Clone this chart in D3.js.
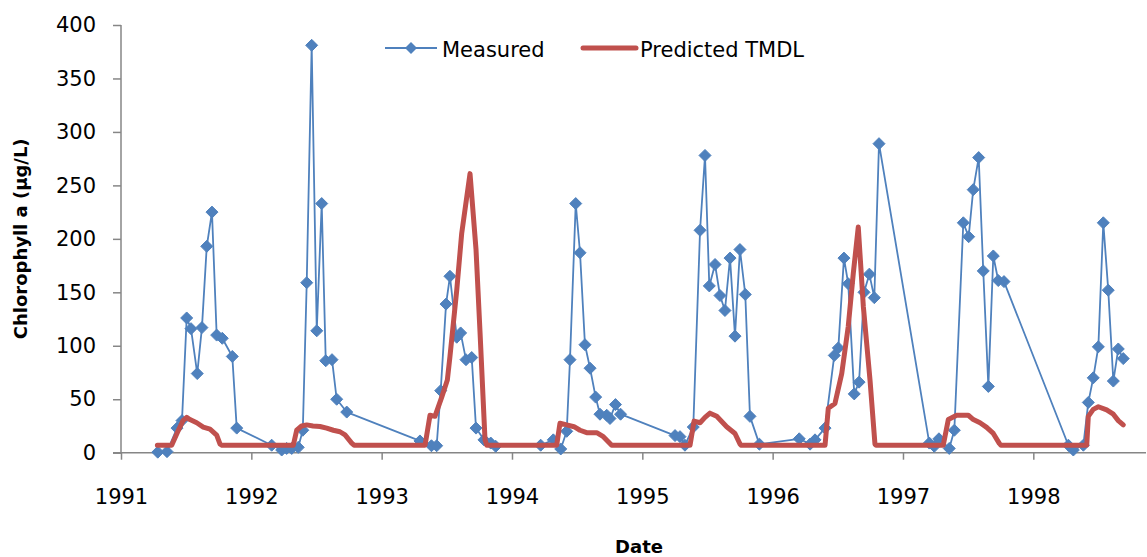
<!DOCTYPE html>
<html>
<head>
<meta charset="utf-8">
<script src="https://cdn.jsdelivr.net/npm/d3@7/dist/d3.min.js"></script>
<style>
  html, body { margin: 0; padding: 0; background: #fff; }
  svg { display: block; }
  text { font-family: "DejaVu Sans", sans-serif; fill: #000; }
</style>
</head>
<body>
<svg id="chart" width="1147" height="557"></svg>
<script>
// Measured chlorophyll a (decimal year, µg/L)
const measuredDates = [
  1991.282, 1991.353, 1991.430, 1991.468, 1991.504, 1991.537, 1991.585, 1991.621, 1991.658, 1991.698,
  1991.734, 1991.777, 1991.854, 1991.888,
  1992.156, 1992.233, 1992.271, 1992.310, 1992.360, 1992.395, 1992.425, 1992.463, 1992.502, 1992.540,
  1992.571, 1992.619, 1992.655, 1992.732,
  1993.294, 1993.382, 1993.422, 1993.453, 1993.494, 1993.524, 1993.576, 1993.606, 1993.647, 1993.691,
  1993.724, 1993.785, 1993.837, 1993.875,
  1994.220, 1994.317, 1994.374, 1994.420, 1994.445, 1994.489, 1994.522, 1994.560, 1994.599, 1994.642,
  1994.675, 1994.727, 1994.752, 1994.794, 1994.833,
  1995.251, 1995.289, 1995.327, 1995.391, 1995.443, 1995.481, 1995.514, 1995.558, 1995.596, 1995.634,
  1995.673, 1995.711, 1995.749, 1995.790, 1995.826, 1995.898,
  1996.204, 1996.287, 1996.325, 1996.402, 1996.473, 1996.504, 1996.547, 1996.580, 1996.626, 1996.663,
  1996.701, 1996.742, 1996.780, 1996.816,
  1997.202, 1997.240, 1997.276, 1997.355, 1997.394, 1997.463, 1997.504, 1997.539, 1997.581, 1997.616,
  1997.655, 1997.693, 1997.731, 1997.775,
  1998.269, 1998.307, 1998.384, 1998.422, 1998.460, 1998.499, 1998.537, 1998.575, 1998.614, 1998.652,
  1998.690
];
const measuredValues = [
  0.5, 1, 23, 30, 126, 116, 74, 117, 193, 225,
  110, 107, 90, 23,
  7, 2.5, 4, 4, 5, 21, 159, 381, 114, 233,
  86, 87, 50, 38,
  11, 6.5, 6.5, 58, 139, 165, 108, 112, 87, 89,
  23, 12, 9, 6,
  7, 12, 3.5, 20, 87, 233, 187, 101, 79, 52,
  36, 35, 32, 45, 36,
  16, 15, 7, 24, 208, 278, 156, 176, 147, 133,
  182, 109, 190, 148, 34, 8,
  13, 8, 12, 23, 91, 98, 182, 158, 55, 66,
  150, 167, 145, 289,
  9, 6, 13, 4, 21, 215, 202, 246, 276, 170,
  62, 184, 161, 160,
  7, 2.5, 7, 47, 70, 99, 215, 152, 67, 97,
  88
];

// Predicted TMDL (decimal year, µg/L)
const predictedDates = [
  1991.279, 1991.389, 1991.437, 1991.476, 1991.504, 1991.529, 1991.581, 1991.631, 1991.683, 1991.734, 1991.760, 1991.775,
  1992.322, 1992.348, 1992.386, 1992.425, 1992.473, 1992.527, 1992.578, 1992.629, 1992.680, 1992.719, 1992.770, 1992.788,
  1993.333, 1993.371, 1993.409, 1993.461, 1993.504, 1993.524, 1993.576, 1993.614, 1993.678, 1993.724, 1993.755, 1993.793, 1993.806,
  1994.343, 1994.368, 1994.420, 1994.476, 1994.522, 1994.573, 1994.650, 1994.701, 1994.765,
  1995.366, 1995.397, 1995.443, 1995.481, 1995.519, 1995.571, 1995.647, 1995.711, 1995.750, 1995.757,
  1996.402, 1996.427, 1996.478, 1996.530, 1996.580, 1996.619, 1996.657, 1996.696, 1996.747, 1996.785, 1996.793,
  1997.309, 1997.348, 1997.412, 1997.501, 1997.540, 1997.591, 1997.642, 1997.693, 1997.739, 1997.752,
  1998.410, 1998.422, 1998.460, 1998.499, 1998.563, 1998.614, 1998.652, 1998.690
];
const predictedValues = [
  7, 7, 20, 30, 33, 31, 28, 24, 22, 16.5, 8, 7,
  7, 21, 25, 26, 25, 24.5, 23, 21, 19.6, 16.6, 9, 7,
  7, 35, 34, 52, 68, 90, 152, 205, 261, 190, 112, 12, 7,
  7, 27.5, 26, 24.3, 21, 18.7, 18.7, 15, 7,
  7, 29.6, 28, 33, 37, 34, 24.3, 18, 8, 7,
  7, 41.5, 46, 74, 118, 168, 211, 136.5, 68, 8, 7,
  7, 31, 35, 35, 31, 28, 23.7, 18, 8.7, 7,
  7, 34, 40.5, 43, 40, 36, 30, 26
];

const yTicks = [0, 50, 100, 150, 200, 250, 300, 350, 400];
const xTicks = [1991, 1992, 1993, 1994, 1995, 1996, 1997, 1998];
const seriesNames = ["Measured", "Predicted TMDL"];

(function () {
  const measured = measuredDates.map((d, i) => ({ x: d, y: measuredValues[i] }));
  const predicted = predictedDates.map((d, i) => ({ x: d, y: predictedValues[i] }));

  const svg = d3.select("#chart");
  const pLeft = 121, pRight = 1146, pTop = 25, pBottom = 452.7;
  const pxPerYear = 130.33;

  const x = d3.scaleLinear()
    .domain([1991, 1991 + (pRight - pLeft) / pxPerYear])
    .range([pLeft, pRight]);
  const y = d3.scaleLinear().domain([0, 400]).range([pBottom, pTop]);

  const axisColor = "#868686";
  const blue = "#4F81BD";
  const red = "#C0504D";

  // Y axis
  const yAxis = svg.append("g").attr("transform", `translate(${pLeft},0)`)
    .call(d3.axisLeft(y).tickValues(yTicks).tickSize(8).tickPadding(17).tickFormat(d3.format("d")));
  yAxis.select(".domain").attr("stroke", axisColor).attr("stroke-width", 1.5)
    .attr("d", `M0,${pTop}V${pBottom}`);
  yAxis.selectAll(".tick line").attr("stroke", axisColor).attr("stroke-width", 1.5);
  yAxis.selectAll(".tick text").attr("font-size", 21).attr("font-family", "DejaVu Sans").attr("fill", "#000");

  // X axis
  const xAxis = svg.append("g").attr("transform", `translate(0,${pBottom})`)
    .call(d3.axisBottom(x).tickValues(xTicks).tickSize(7).tickPadding(29).tickFormat(d3.format("d")));
  xAxis.select(".domain").attr("stroke", axisColor).attr("stroke-width", 1.5)
    .attr("d", `M${pLeft - 8},0H${pRight}`);
  xAxis.selectAll(".tick line").attr("stroke", axisColor).attr("stroke-width", 1.5);
  xAxis.selectAll(".tick text").attr("font-size", 21).attr("font-family", "DejaVu Sans").attr("fill", "#000");

  // Axis titles
  svg.append("text")
    .attr("transform", `translate(27,${(pTop + pBottom) / 2}) rotate(-90)`)
    .attr("text-anchor", "middle")
    .attr("font-size", 18).attr("font-weight", "bold")
    .text("Chlorophyll a (µg/L)");
  svg.append("text")
    .attr("x", 639).attr("y", 553)
    .attr("text-anchor", "middle")
    .attr("font-size", 18).attr("font-weight", "bold")
    .text("Date");

  // Measured line + markers
  const line = d3.line().x(d => x(d.x)).y(d => y(d.y));
  svg.append("path").datum(measured)
    .attr("fill", "none").attr("stroke", blue).attr("stroke-width", 1.8)
    .attr("stroke-linejoin", "round")
    .attr("d", line);

  const diamond = (s) => `M0,${-s}L${s},0L0,${s}L${-s},0Z`;
  svg.append("g").selectAll("path").data(measured).join("path")
    .attr("transform", d => `translate(${x(d.x)},${y(d.y)})`)
    .attr("d", diamond(6))
    .attr("fill", blue).attr("stroke", blue).attr("stroke-width", 1);

  // Predicted line
  svg.append("path").datum(predicted)
    .attr("fill", "none").attr("stroke", red).attr("stroke-width", 5)
    .attr("stroke-linejoin", "round").attr("stroke-linecap", "round")
    .attr("d", line);

  // Legend
  const lg = svg.append("g");
  lg.append("line").attr("x1", 385).attr("x2", 437).attr("y1", 48).attr("y2", 48)
    .attr("stroke", blue).attr("stroke-width", 1.8);
  lg.append("path").attr("transform", "translate(411,48)").attr("d", diamond(6)).attr("fill", blue);
  lg.append("text").attr("x", 442).attr("y", 56.5).attr("font-size", 21).text(seriesNames[0]);
  lg.append("line").attr("x1", 583).attr("x2", 636).attr("y1", 48).attr("y2", 48)
    .attr("stroke", red).attr("stroke-width", 5).attr("stroke-linecap", "round");
  lg.append("text").attr("x", 640).attr("y", 56.5).attr("font-size", 21).text(seriesNames[1]);
})();
</script>
</body>
</html>
